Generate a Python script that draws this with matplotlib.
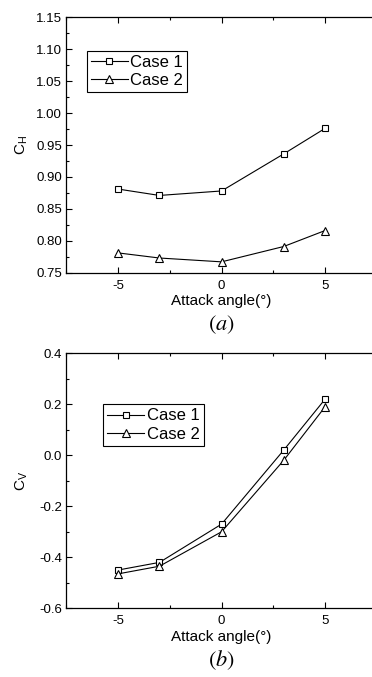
import matplotlib
matplotlib.use("Agg")
import matplotlib.pyplot as plt
from matplotlib.ticker import MultipleLocator, FormatStrFormatter

plt.rcParams['font.family'] = ['Liberation Sans', 'DejaVu Sans']
plt.rcParams['mathtext.fontset'] = 'stix'
plt.rcParams['axes.unicode_minus'] = False

angles = [-5, -3, 0, 3, 5]
ch_case1 = [0.881, 0.871, 0.878, 0.936, 0.976]
ch_case2 = [0.781, 0.773, 0.767, 0.791, 0.816]
cv_case1 = [-0.450, -0.420, -0.270, 0.020, 0.220]
cv_case2 = [-0.465, -0.435, -0.300, -0.020, 0.190]
series_labels = ["Case 1", "Case 2"]

W, H = 372, 677
fig = plt.figure(figsize=(W / 100, H / 100), dpi=100)

def px_axes(left, top, right, bottom):
    return fig.add_axes([left / W, 1 - bottom / H, (right - left) / W, (bottom - top) / H])

ax1 = px_axes(66.3, 17.3, 376.8, 272.7)
ax2 = px_axes(66.3, 353.3, 376.8, 608.3)

def style(ax, ylim, ymaj, ymin, ylabel, leg_anchor, panel, fmt):
    ax.set_xlim(-7.5, 7.5)
    ax.set_ylim(*ylim)
    ax.xaxis.set_major_locator(MultipleLocator(5))
    ax.xaxis.set_minor_locator(MultipleLocator(2.5))
    ax.yaxis.set_major_locator(MultipleLocator(ymaj))
    ax.yaxis.set_minor_locator(MultipleLocator(ymin))
    ax.yaxis.set_major_formatter(FormatStrFormatter(fmt))
    ax.tick_params(which='both', direction='in', top=True, right=False, labelsize=9.5, width=0.8)
    ax.tick_params(axis='x', pad=5)
    ax.tick_params(axis='y', pad=3)
    ax.tick_params(which='major', length=4)
    ax.tick_params(which='minor', length=2)
    for s in ax.spines.values():
        s.set_linewidth(0.9)
    ax.set_xlabel("Attack angle(°)", fontsize=11, labelpad=2)
    ax.set_ylabel(ylabel, fontsize=11)
    ax.yaxis.set_label_coords(-0.118, 0.5)
    leg = ax.legend(loc='upper left', bbox_to_anchor=leg_anchor, fontsize=12, frameon=True,
                    fancybox=False, edgecolor='black', framealpha=1, borderpad=0.25,
                    handlelength=2.2, handletextpad=0.15, labelspacing=0.2, borderaxespad=0)
    leg.get_frame().set_linewidth(0.8)
    ax.text(0.5, -0.205, panel, transform=ax.transAxes, ha='center', va='center', fontsize=16)

ax1.plot(angles, ch_case1, color='black', lw=0.8, marker='s', ms=5, mfc='white', mec='black', mew=0.8, label=series_labels[0])
ax1.plot(angles, ch_case2, color='black', lw=0.8, marker='^', ms=6, mfc='white', mec='black', mew=0.8, label=series_labels[1])
style(ax1, (0.75, 1.15), 0.05, 0.025, r'$\mathregular{C_H}$', (0.066, 0.869), r'$(\mathit{a})$', '%.2f')

ax2.plot(angles, cv_case1, color='black', lw=0.8, marker='s', ms=5, mfc='white', mec='black', mew=0.8, label=series_labels[0])
ax2.plot(angles, cv_case2, color='black', lw=0.8, marker='^', ms=6, mfc='white', mec='black', mew=0.8, label=series_labels[1])
style(ax2, (-0.6, 0.4), 0.2, 0.1, r'$\mathregular{C_V}$', (0.119, 0.80), r'$(\mathit{b})$', '%.1f')

fig.savefig("out.png", dpi=100)
